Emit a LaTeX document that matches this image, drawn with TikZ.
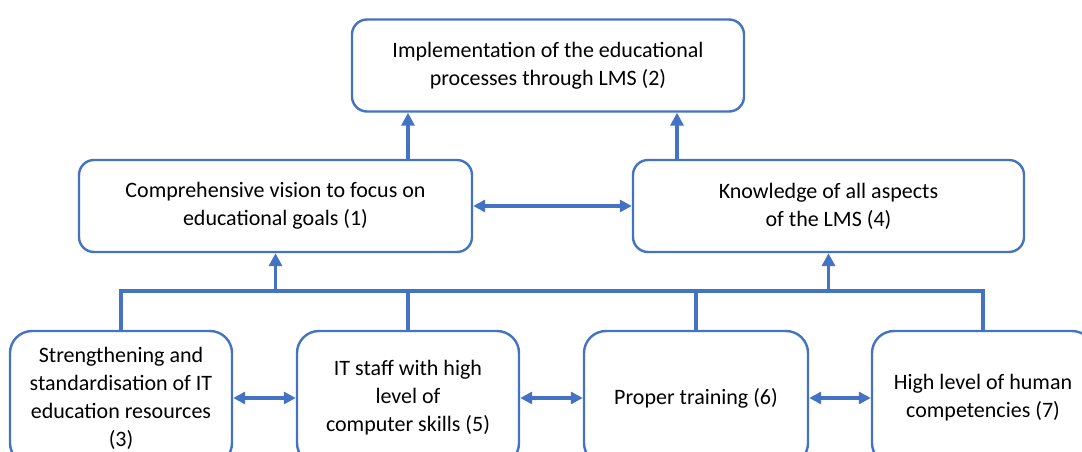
\documentclass[tikz,border=0pt]{standalone}
\usepackage{fontspec}
\setmainfont{Carlito}
\usetikzlibrary{arrows.meta,calc}
\definecolor{lineblue}{RGB}{68,114,196}
\begin{document}
\begin{tikzpicture}[x=1pt,y=-1pt,
  box/.style={draw=lineblue, line width=2.4pt, rounded corners=15pt, fill=white,
    align=center, inner sep=0pt, font=\fontsize{22}{28}\selectfont},
  lowbox/.style={box, rounded corners=22pt, minimum width=222pt, minimum height=134pt},
  topbox/.style={box, minimum width=392pt, minimum height=92pt},
  conn/.style={draw=lineblue, line width=3.2pt},
  arr/.style={conn, -{Triangle[length=13pt,width=13pt]}},
  biarr/.style={conn, {Triangle[length=12pt,width=12pt]}-{Triangle[length=12pt,width=12pt]}}]
\useasboundingbox (0,0) rectangle (1082,452);
\clip (0,0) rectangle (1082,452);

% goal level
\node[topbox] (n2) at (548,65.5) {Implementation of the educational\\processes through LMS (2)};

% middle level
\node[topbox, minimum width=393pt] (n1) at (275.5,206) {Comprehensive vision to focus on\\educational goals (1)};
\node[topbox, minimum width=391pt] (n4) at (828.5,206) {Knowledge of all aspects\\of the LMS (4)};

% base factors
\node[lowbox] (n3) at (121,398) {Strengthening and\\standardisation of IT\\education resources\\(3)};
\node[lowbox] (n5) at (408,398) {IT staff with high\\level of\\computer skills (5)};
\node[lowbox, minimum width=224pt] (n6) at (696,398) {Proper training (6)};
\node[lowbox] (n7) at (983,398) {High level of human\\competencies (7)};

% collecting bus above the base factors
\coordinate (bus) at (0,291);
\draw[conn, line join=miter] (n3.north) -- (n3.north |- bus) -- (n7.north |- bus) -- (n7.north);
\draw[conn] (n5.north) -- (n5.north |- bus);
\draw[conn] (n6.north) -- (n6.north |- bus);
\draw[arr] (n1.south |- bus) -- (n1.south);
\draw[arr] (n4.south |- bus) -- (n4.south);

% middle level to goal
\draw[arr] ([xshift=132.5pt]n1.north) -- ([xshift=132.5pt]n1.north |- n2.south);
\draw[arr] ([xshift=-151.5pt]n4.north) -- ([xshift=-151.5pt]n4.north |- n2.south);

% mutual links
\draw[biarr] (n1.east) -- (n4.west);
\draw[biarr] (n3.east) -- (n5.west);
\draw[biarr] (n5.east) -- (n6.west);
\draw[biarr] (n6.east) -- (n7.west);
\end{tikzpicture}
\end{document}
